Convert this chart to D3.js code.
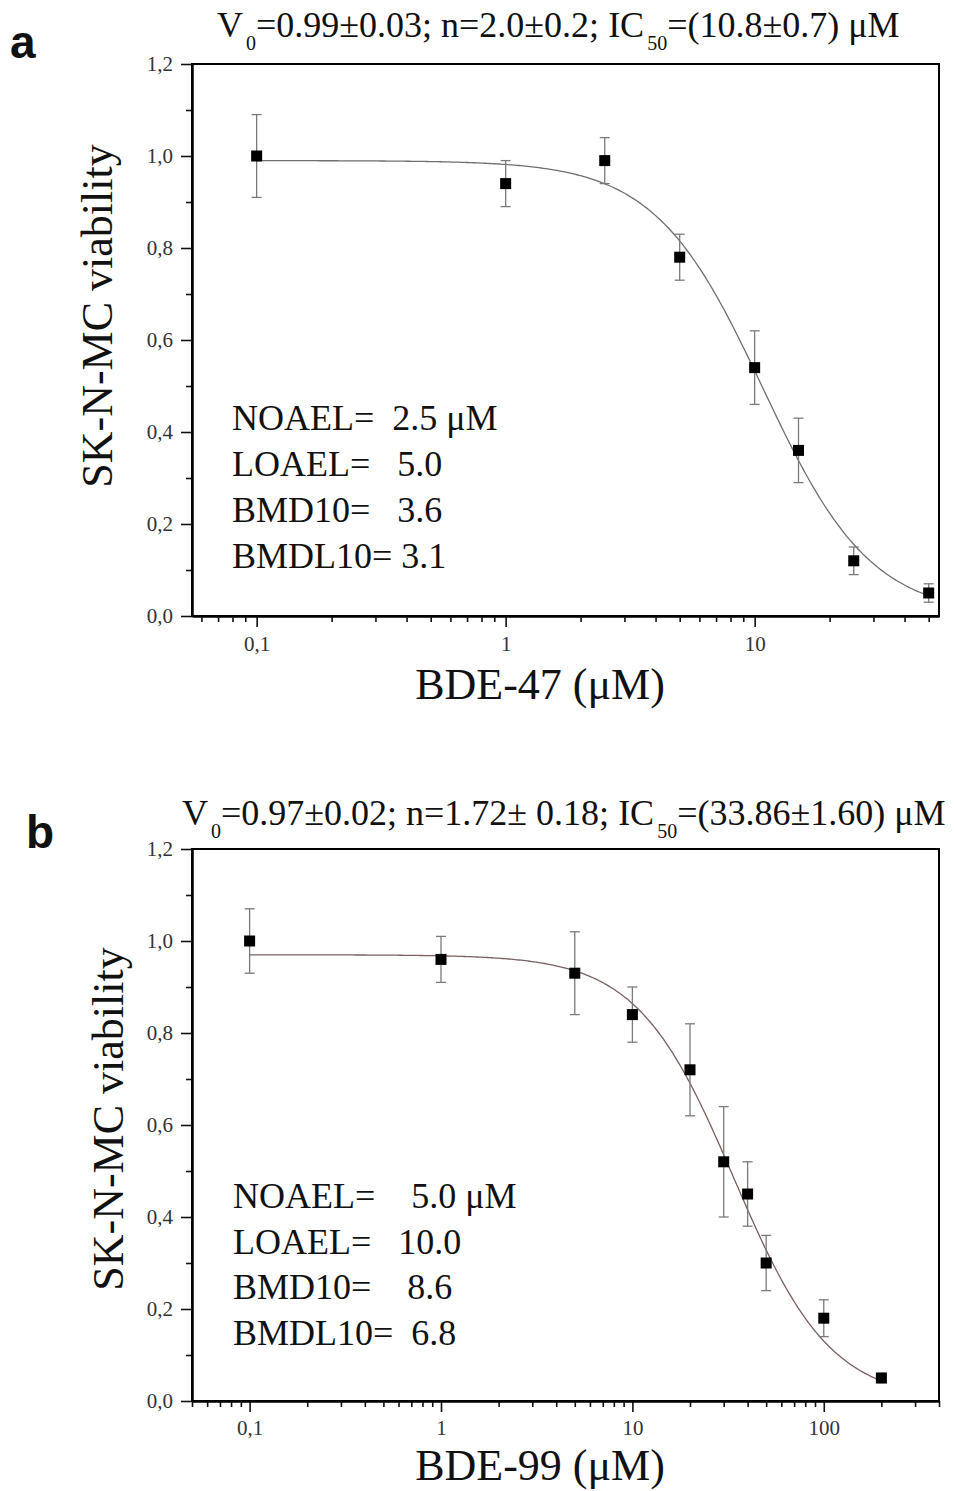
<!DOCTYPE html>
<html><head><meta charset="utf-8">
<script src="https://cdn.jsdelivr.net/npm/d3@7"></script>
<style>
html,body{margin:0;padding:0;background:#fff;}
svg{display:block;}
text{fill:#111;}
</style></head><body>
<svg id="chart" width="954" height="1491"></svg>
<script>
// ---- Panel a: BDE-47 ----
const concA = [0.1, 1, 2.5, 5, 10, 15, 25, 50];
const viabA = [1.00, 0.94, 0.99, 0.78, 0.54, 0.36, 0.12, 0.05];
const errA  = [0.09, 0.05, 0.05, 0.05, 0.08, 0.07, 0.03, 0.02];
const fitA  = [0.99, 2.0, 10.8];            // V0, n, IC50
const titleA = ["V", "0", "=0.99\u00b10.03; n=2.0\u00b10.2; IC", "50", "=(10.8\u00b10.7) \u03bcM"];
const notesA = ["NOAEL=  2.5 \u03bcM", "LOAEL=   5.0", "BMD10=   3.6", "BMDL10= 3.1"];
const xTicksA = [0.1, 1, 10];
const xLabelA = "BDE-47 (\u03bcM)";

// ---- Panel b: BDE-99 ----
const concB = [0.1, 1, 5, 10, 20, 30, 40, 50, 100, 200];
const viabB = [1.00, 0.96, 0.93, 0.84, 0.72, 0.52, 0.45, 0.30, 0.18, 0.05];
const errB  = [0.07, 0.05, 0.09, 0.06, 0.10, 0.12, 0.07, 0.06, 0.04, 0.01];
const fitB  = [0.97, 1.72, 33.86];
const titleB = ["V", "0", "=0.97\u00b10.02; n=1.72\u00b1 0.18; IC", "50", "=(33.86\u00b11.60) \u03bcM"];
const notesB = ["NOAEL=    5.0 \u03bcM", "LOAEL=   10.0", "BMD10=    8.6", "BMDL10=  6.8"];
const xTicksB = [0.1, 1, 10, 100];
const xLabelB = "BDE-99 (\u03bcM)";

// ---- shared ----
const yMajor = [0, 0.2, 0.4, 0.6, 0.8, 1.0, 1.2];
const yMinor = [0.1, 0.3, 0.5, 0.7, 0.9, 1.1];
const yLabel = "SK-N-MC viability";

const SERIF = '"Liberation Serif", "Times New Roman", serif';
const SANS = '"Liberation Sans", Arial, sans-serif';

const svg = d3.select("#chart");
const comma = v => d3.format(".1f")(v).replace(".", ",");
const xFmt = v => v < 1 ? String(v).replace(".", ",") : String(v);

function minorLogTicks(domain) {
  const out = [];
  const lo = Math.floor(Math.log10(domain[0])), hi = Math.ceil(Math.log10(domain[1]));
  for (let e = lo; e <= hi; e++) {
    for (let m = 2; m <= 9; m++) {
      const v = m * Math.pow(10, e);
      if (v >= domain[0] && v <= domain[1]) out.push(v);
    }
  }
  return out;
}

function drawPanel(o) {
  const g = svg.append("g");
  const x = d3.scaleLog().domain(o.xDomain).range([o.left, o.right]);
  const y = d3.scaleLinear().domain([0, 1.2]).range([o.bottom, o.top]);

  // x axis: major + minor ticks
  g.append("g").attr("transform", `translate(0,${o.bottom})`)
    .call(d3.axisBottom(x).tickValues(o.xTicks).tickFormat(xFmt).tickSize(11).tickPadding(o.xPad).tickSizeOuter(0));
  g.append("g").attr("transform", `translate(0,${o.bottom})`)
    .call(d3.axisBottom(x).tickValues(minorLogTicks(o.xDomain)).tickFormat("").tickSize(6).tickSizeOuter(0));

  // y axis: major + minor ticks
  g.append("g").attr("transform", `translate(${o.left},0)`)
    .call(d3.axisLeft(y).tickValues(yMajor).tickFormat(comma).tickSize(11).tickPadding(8).tickSizeOuter(0));
  g.append("g").attr("transform", `translate(${o.left},0)`)
    .call(d3.axisLeft(y).tickValues(yMinor).tickFormat("").tickSize(6).tickSizeOuter(0));

  g.selectAll(".domain").attr("stroke", "#000").attr("stroke-width", 2);
  g.selectAll(".tick line").attr("stroke", "#111").attr("stroke-width", 1.6);
  g.selectAll(".tick text")
    .style("font-family", SERIF).style("font-size", "21px").style("fill", "#333");

  // frame
  g.append("rect")
    .attr("x", o.left).attr("y", o.top)
    .attr("width", o.right - o.left).attr("height", o.bottom - o.top)
    .attr("fill", "none").attr("stroke", "#000").attr("stroke-width", 2);

  // fitted Hill curve V = V0 / (1 + (c/IC50)^n)
  const [V0, n, ic50] = o.fit;
  const lo = Math.log10(d3.min(o.conc)), hi = Math.log10(d3.max(o.conc));
  const cs = d3.range(0, 301).map(i => Math.pow(10, lo + (hi - lo) * i / 300));
  g.append("path")
    .datum(cs)
    .attr("fill", "none").attr("stroke", o.curveColor).attr("stroke-width", 1.3)
    .attr("d", d3.line().x(c => x(c)).y(c => y(V0 / (1 + Math.pow(c / ic50, n)))));

  // error bars
  const pts = o.conc.map((c, i) => ({c, v: o.viab[i], e: o.err[i]}));
  const eb = g.append("g").attr("stroke", "#7a7a7a").attr("stroke-width", 1.3);
  eb.selectAll("line.v").data(pts).join("line")
    .attr("x1", d => x(d.c)).attr("x2", d => x(d.c))
    .attr("y1", d => y(d.v - d.e)).attr("y2", d => y(d.v + d.e));
  eb.selectAll("line.t").data(pts).join("line")
    .attr("x1", d => x(d.c) - 5).attr("x2", d => x(d.c) + 5)
    .attr("y1", d => y(d.v + d.e)).attr("y2", d => y(d.v + d.e));
  eb.selectAll("line.b").data(pts).join("line")
    .attr("x1", d => x(d.c) - 5).attr("x2", d => x(d.c) + 5)
    .attr("y1", d => y(d.v - d.e)).attr("y2", d => y(d.v - d.e));

  // markers
  g.selectAll("rect.pt").data(pts).join("rect")
    .attr("x", d => x(d.c) - 5.5).attr("y", d => y(d.v) - 5.5)
    .attr("width", 11).attr("height", 11).attr("fill", "#000");

  // title with subscripts
  const t = g.append("text").attr("x", o.titleX).attr("y", o.titleY)
    .style("font-family", SERIF).style("font-size", "36px");
  o.title.forEach((s, i) => {
    const sub = i % 2 === 1;
    t.append("tspan").text(s)
      .style("font-size", sub ? "20px" : "36px")
      .attr("dx", sub ? 3 : 0)
      .attr("dy", i === 0 ? 0 : (sub ? 13 : -13));
  });

  // annotations
  g.append("g").selectAll("text").data(o.notes).join("text")
    .attr("x", o.noteX).attr("y", (d, i) => o.noteY + i * o.noteStep)
    .style("font-family", SERIF).style("font-size", "36px")
    .style("white-space", "pre").text(d => d);

  // axis labels
  g.append("text").attr("x", o.xLabelX).attr("y", o.xLabelY)
    .attr("text-anchor", "middle")
    .style("font-family", SERIF).style("font-size", "44px").text(o.xLabel);
  g.append("text")
    .attr("transform", `translate(${o.yLabelX},${o.yLabelY}) rotate(-90)`)
    .attr("text-anchor", "middle")
    .style("font-family", SERIF).style("font-size", "44px").text(yLabel);

  // panel letter
  g.append("text").attr("x", o.letterX).attr("y", o.letterY)
    .style("font-family", SANS).style("font-weight", "bold")
    .style("font-size", "46px").text(o.letter);
}

drawPanel({
  conc: concA, viab: viabA, err: errA, fit: fitA, title: titleA, notes: notesA,
  xTicks: xTicksA, xLabel: xLabelA, xDomain: [0.055, 55],
  left: 192, right: 939, top: 64, bottom: 616, xPad: 9,
  curveColor: "#6f6f6f",
  titleX: 217, titleY: 37, noteX: 232, noteY: 430, noteStep: 46,
  xLabelX: 540, xLabelY: 699, yLabelX: 112, yLabelY: 316,
  letter: "a", letterX: 10, letterY: 58
});

drawPanel({
  conc: concB, viab: viabB, err: errB, fit: fitB, title: titleB, notes: notesB,
  xTicks: xTicksB, xLabel: xLabelB, xDomain: [0.05, 400],
  left: 192, right: 939, top: 849, bottom: 1401, xPad: 8,
  curveColor: "#7a6060",
  titleX: 182, titleY: 825, noteX: 233, noteY: 1208, noteStep: 45.7,
  xLabelX: 540, xLabelY: 1480, yLabelX: 123, yLabelY: 1119,
  letter: "b", letterX: 26, letterY: 848
});
</script>
</body></html>
